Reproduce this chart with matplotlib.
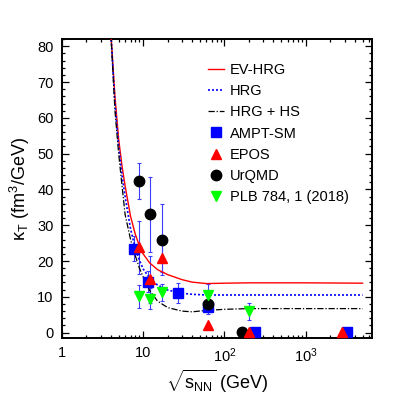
import numpy as np
import matplotlib.pyplot as plt
from matplotlib.ticker import FixedLocator, MultipleLocator, NullFormatter

plt.rcParams['font.family'] = ['Liberation Sans', 'DejaVu Sans']
plt.rcParams['mathtext.fontset'] = 'custom'
plt.rcParams['mathtext.rm'] = 'Liberation Sans'
plt.rcParams['mathtext.it'] = 'Liberation Sans:italic'
plt.rcParams['mathtext.sf'] = 'Liberation Sans'

# curves
e_curve = [4.0, 4.5, 5.0, 5.5, 6.0, 7.0, 8.0, 9.0, 10, 12, 15, 20, 30, 40, 60, 100, 200, 500, 1000, 5000]
ev_hrg = [84, 66, 54, 46.5, 41, 32.5, 27.5, 24.2, 22.0, 19.5, 17.6, 16.2, 14.8, 14.1, 13.7, 13.8, 13.9, 13.9, 13.9, 13.8]
hrg = [84, 64, 52, 44, 38, 29, 23.5, 20.2, 17.8, 15.2, 13.3, 11.9, 11.0, 10.7, 10.5, 10.5, 10.5, 10.5, 10.5, 10.5]
hrg_hs = [84, 62, 50, 41, 33, 26, 21.5, 18, 15.6, 11.8, 8.8, 7.0, 6.0, 5.8, 6.2, 6.5, 6.7, 6.7, 6.7, 6.7]

# model / data points
ampt_x = [7.7, 11.5, 27, 62.4, 237, 3200]
ampt_y = [23.4, 14.2, 11.0, 7.1, 0.3, 0.3]
ampt_err = [3.5, 3.0, 2.8, 2.0, 0, 0]

epos_x = [8.8, 12.3, 17.3, 62.4, 200, 2760]
epos_y = [23.8, 14.9, 20.9, 2.2, 0.3, 0.3]
epos_err = [7.5, 6.5, 4.0, 0, 0, 0]

urqmd_x = [8.8, 12.3, 17.3, 62.4, 165]
urqmd_y = [42.3, 33.0, 26.0, 8.0, 0.3]
urqmd_err = [5.0, 10.5, 10.0, 0, 0]

plb_x = [8.8, 12.3, 17.3, 62.4, 200]
plb_y = [10.2, 9.5, 11.2, 10.6, 5.9]
plb_err = [3.2, 3.0, 2.5, 3.0, 2.3]

fig = plt.figure(figsize=(4.15, 3.99), dpi=100)
ax = fig.add_axes([0.149, 0.153, 0.747, 0.749])

ax.plot(e_curve, ev_hrg, color='red', lw=1.0, label='EV-HRG', zorder=3)
ax.plot(e_curve, hrg, color='blue', lw=1.2, ls=(0, (1.2, 1.2)), label='HRG', zorder=3)
ax.plot(e_curve, hrg_hs, color='black', lw=0.9, ls=(0, (5, 1.5, 1, 1.5)), label='HRG + HS', zorder=3)

# error bars first, markers on top
ekw = dict(ecolor='#3c3cff', elinewidth=0.8, capsize=1.5, capthick=0.8, ls='none', marker='none', zorder=2)
ax.errorbar(ampt_x, ampt_y, yerr=ampt_err, **ekw)
ax.errorbar(epos_x, epos_y, yerr=epos_err, **ekw)
ax.errorbar(urqmd_x, urqmd_y, yerr=urqmd_err, **ekw)
ax.errorbar(plb_x, plb_y, yerr=plb_err, **ekw)

ax.plot(ampt_x, ampt_y, 's', ms=6.5, color='blue', label='AMPT-SM', zorder=4)
ax.plot(epos_x, epos_y, '^', ms=7, color='red', label='EPOS', zorder=5)
ax.plot(urqmd_x, urqmd_y, 'o', ms=7.5, color='black', label='UrQMD', zorder=4)
ax.plot(plb_x, plb_y, 'v', ms=7, color='#00ff00', label='PLB 784, 1 (2018)', zorder=5)

ax.set_xscale('log')
ax.set_xlim(1, 6500)
ax.set_ylim(-1.5, 82)
ax.xaxis.set_major_locator(FixedLocator([1, 10, 100, 1000]))
ax.set_xticklabels(['1', '10', '$10^2$', '$10^3$'])
ax.xaxis.set_minor_formatter(NullFormatter())
ax.yaxis.set_major_locator(MultipleLocator(10))
ax.yaxis.set_minor_locator(MultipleLocator(2))
ax.tick_params(which='both', direction='in', top=True, right=True, labelsize=10.5, width=0.9)
ax.tick_params(which='major', length=5, pad=6)
ax.tick_params(which='minor', length=2.5)
for s in ax.spines.values():
    s.set_linewidth(1.4)

ax.set_xlabel(r'$\sqrt{\mathrm{s}_{\rm NN}}$ (GeV)', fontsize=13, labelpad=2)
ax.set_ylabel('κ$_{\\rm T}$ (fm$^3$/GeV)', fontsize=13, labelpad=4)

leg = ax.legend(loc='upper left', bbox_to_anchor=(0.43, 0.965), frameon=False, fontsize=10.5,
                handlelength=1.1, handletextpad=0.4, labelspacing=0.5, numpoints=1)

fig.savefig('out.png', dpi=100)
